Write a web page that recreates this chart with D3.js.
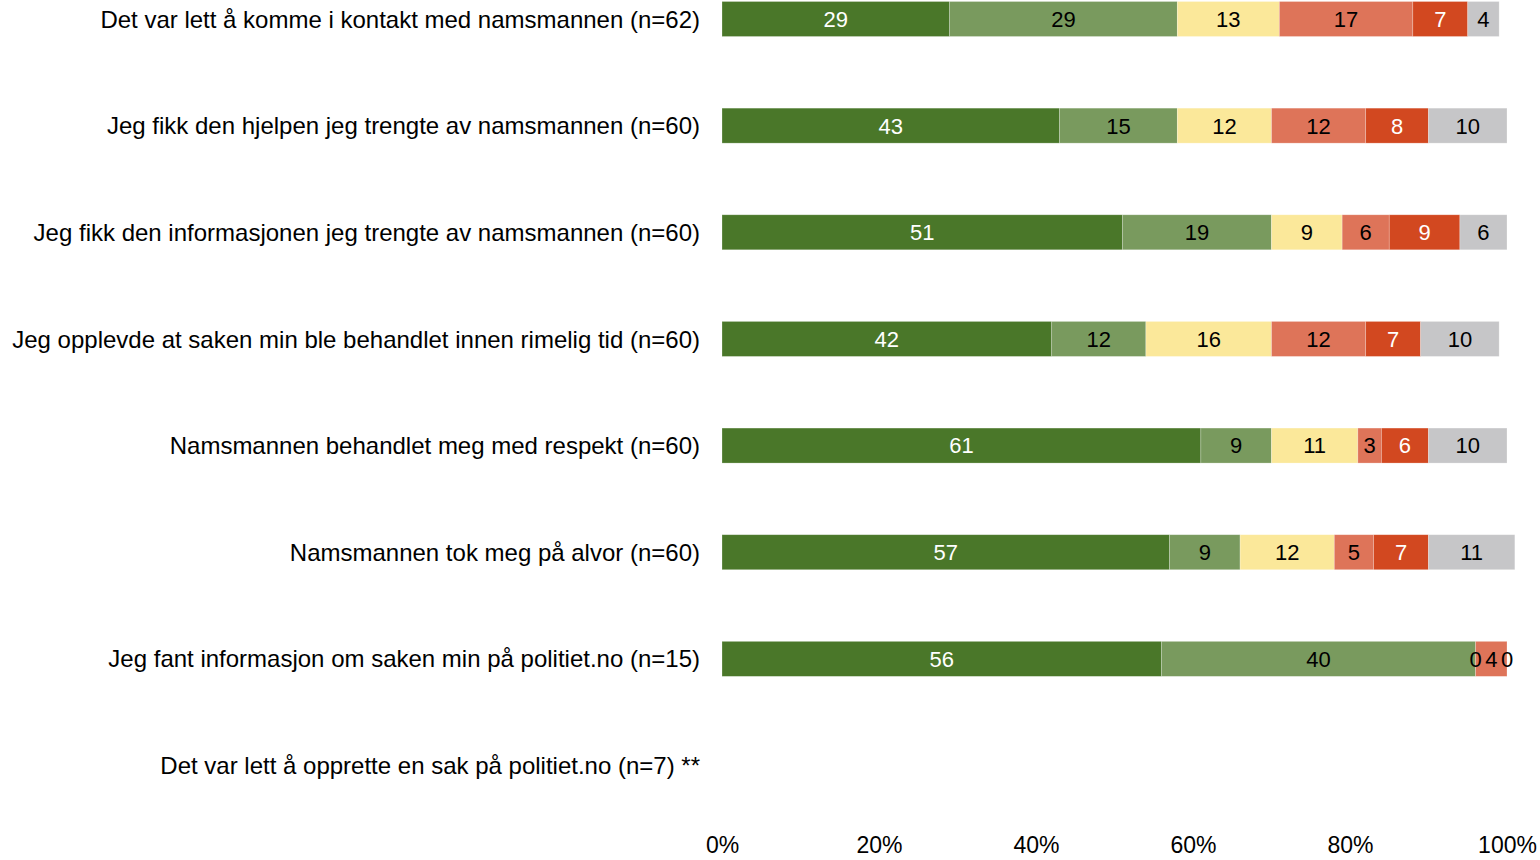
<!DOCTYPE html>
<html>
<head>
<meta charset="utf-8">
<script src="https://cdn.jsdelivr.net/npm/d3@7"></script>
<style>
  html, body { margin: 0; padding: 0; background: #fff; }
  svg { display: block; font-family: "Liberation Sans", Arial, sans-serif; }
</style>
</head>
<body>
<svg id="chart" width="1540" height="860"></svg>
<script>
// Survey statements (one bar each)
const categories = [
  "Det var lett å komme i kontakt med namsmannen (n=62)",
  "Jeg fikk den hjelpen jeg trengte av namsmannen (n=60)",
  "Jeg fikk den informasjonen jeg trengte av namsmannen (n=60)",
  "Jeg opplevde at saken min ble behandlet innen rimelig tid (n=60)",
  "Namsmannen behandlet meg med respekt (n=60)",
  "Namsmannen tok meg på alvor (n=60)",
  "Jeg fant informasjon om saken min på politiet.no (n=15)",
  "Det var lett å opprette en sak på politiet.no (n=7) **"
];

// Response shares in percent, one array per answer level (null = not shown)
const stronglyAgree    = [29, 43, 51, 42, 61, 57, 56, null];
const somewhatAgree    = [29, 15, 19, 12,  9,  9, 40, null];
const neutral          = [13, 12,  9, 16, 11, 12,  0, null];
const somewhatDisagree = [17, 12,  6, 12,  3,  5,  4, null];
const stronglyDisagree = [ 7,  8,  9,  7,  6,  7,  0, null];
const dontKnow         = [ 4, 10,  6, 10, 10, 11, null, null];

const seriesValues = [stronglyAgree, somewhatAgree, neutral, somewhatDisagree, stronglyDisagree, dontKnow];
const seriesColors = ["#4a7729", "#799a5e", "#fbe89a", "#de7459", "#d24820", "#c6c6c8"];
const labelColors  = ["#ffffff", "#000000", "#000000", "#000000", "#ffffff", "#000000"];

const tickValues = [0, 20, 40, 60, 80, 100];
const tickLabels = ["0%", "20%", "40%", "60%", "80%", "100%"];

const svg = d3.select("#chart");

const x = d3.scaleLinear().domain([0, 100]).range([722, 1507]);
const y = d3.scalePoint().domain(categories).range([19, 765.5]);
const barH = 35;

// Build stacked segments
const segments = [];
categories.forEach((cat, i) => {
  let acc = 0;
  seriesValues.forEach((vals, s) => {
    const v = vals[i];
    if (v === null || v === undefined) return;
    segments.push({ cat, s, v, x0: acc, x1: acc + v });
    acc += v;
  });
});

const g = svg.append("g");

g.selectAll("rect.seg")
  .data(segments.filter(d => d.v > 0))
  .join("rect")
  .attr("class", "seg")
  .attr("x", d => x(d.x0))
  .attr("y", d => y(d.cat) - barH / 2)
  .attr("width", d => x(d.x1) - x(d.x0))
  .attr("height", barH)
  .attr("fill", d => seriesColors[d.s])
  .attr("stroke", "rgba(255,255,255,0.35)")
  .attr("stroke-width", 0.7);

// Value labels; zero-width segments get dark text since they sit outside the fill
g.selectAll("text.val")
  .data(segments)
  .join("text")
  .attr("class", "val")
  .attr("x", d => x((d.x0 + d.x1) / 2))
  .attr("y", d => y(d.cat))
  .attr("dy", "0.36em")
  .attr("text-anchor", "middle")
  .attr("font-size", 22)
  .attr("fill", d => d.v === 0 ? "#000000" : labelColors[d.s])
  .text(d => d.v);

// Category labels
svg.append("g")
  .selectAll("text")
  .data(categories)
  .join("text")
  .attr("x", 700)
  .attr("y", d => y(d))
  .attr("dy", "0.36em")
  .attr("text-anchor", "end")
  .attr("font-size", 24)
  .attr("fill", "#000")
  .text(d => d);

// Percentage axis
const axis = d3.axisBottom(x)
  .tickValues(tickValues)
  .tickFormat((d, i) => tickLabels[i])
  .tickSize(0)
  .tickPadding(0);

const ax = svg.append("g")
  .attr("transform", "translate(0,836)")
  .call(axis);
ax.select(".domain").remove();
ax.selectAll("text")
  .attr("font-size", 23)
  .attr("font-family", "Liberation Sans, Arial, sans-serif")
  .attr("fill", "#000")
  .attr("dy", "0.72em");
</script>
</body>
</html>
